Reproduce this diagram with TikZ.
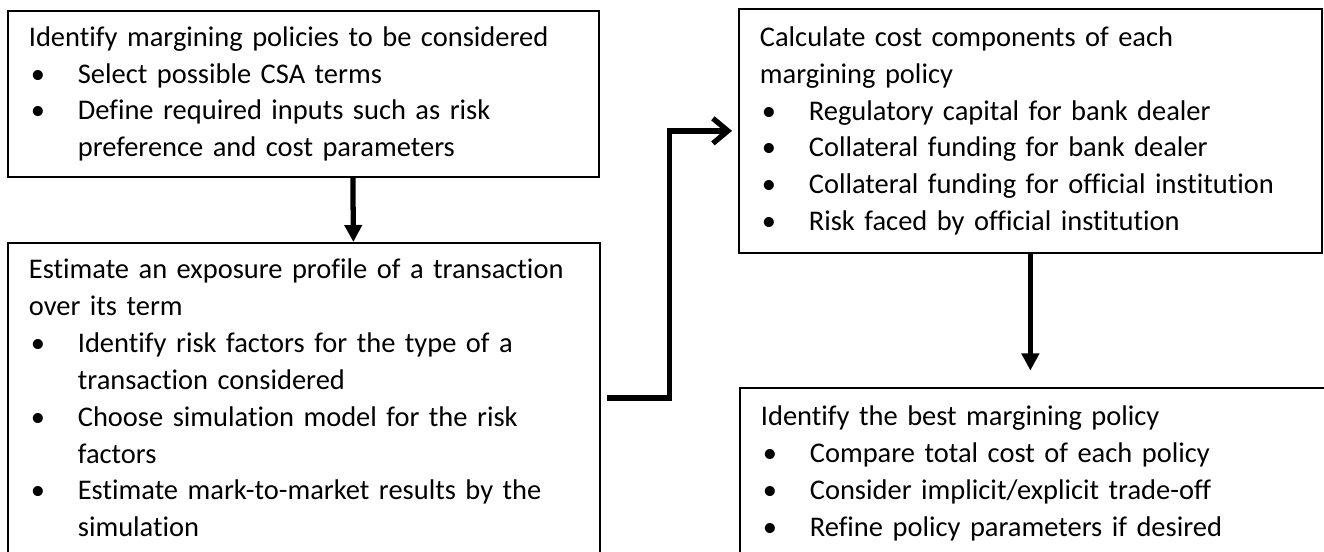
\documentclass[tikz,border=0pt]{standalone}
\usepackage{fontspec}
\setmainfont{Carlito}[Ligatures=NoCommon]
\usetikzlibrary{positioning,arrows.meta}
\setlength{\parindent}{0pt}
\setlength{\parskip}{0pt}
\newcommand{\bpoint}[1]{\par\hangindent=0.98cm\hangafter=1\makebox[0.98cm][l]{\hspace{0.04cm}\textbullet}#1\par}

\begin{document}
\begin{tikzpicture}[
  stage/.style={draw, line width=1pt, anchor=north west, inner xsep=0.42cm, inner ysep=0pt,
    font=\fontsize{16.2}{21}\selectfont, execute at begin node={\raggedright\hyphenpenalty=10000}},
  flow/.style={line width=3pt, -{Triangle[length=0.34cm,width=0.34cm]}},
  jump/.style={line width=3pt, -{Straight Barb[length=0.3cm,width=0.5cm]}, shorten <=0.12cm, shorten >=0.12cm}
]
  % Frame
  \useasboundingbox (0,0) rectangle (26.48,-11.04);
  \clip (0,0) rectangle (26.48,-11.04);

  % Stage 1
  \node[stage, text width=10.98cm, minimum height=3.32cm] (policies) at (0.14,-0.2) {Identify margining policies to be considered
    \bpoint{Select possible CSA terms}
    \bpoint{Define required inputs such as risk\newline preference and cost parameters}};

  % Stage 2
  \node[stage, text width=11cm, minimum height=6.2cm] (exposure) at (0.14,-4.84) {Estimate an exposure profile of a transaction\newline over its term
    \bpoint{Identify risk factors for the type of a\newline transaction considered}
    \bpoint{Choose simulation model for the risk\newline factors}
    \bpoint{Estimate mark-to-market results by the\newline simulation}};

  % Stage 3
  \node[stage, text width=10.82cm, minimum height=4.88cm] (costs) at (14.76,-0.16) {Calculate cost components of each\newline margining policy
    \bpoint{Regulatory capital for bank dealer}
    \bpoint{Collateral funding for bank dealer}
    \bpoint{Collateral funding for official institution}
    \bpoint{Risk faced by official institution}};

  % Stage 4
  \node[stage, text width=11.56cm, minimum height=3.42cm] (best) at (14.78,-7.74) {Identify the best margining policy
    \bpoint{Compare total cost of each policy}
    \bpoint{Consider implicit/explicit trade-off}
    \bpoint{Refine policy parameters if desired}};

  % Arrows
  \draw[flow] ([xshift=0.99cm]policies.south) -- ([xshift=0.99cm]exposure.north);
  \draw[jump] (exposure.east) -- ++(1.38,0) |- (costs.west);
  \draw[flow, shorten >=0.33cm] (costs.south) -- (costs.south |- best.north);
\end{tikzpicture}
\end{document}
